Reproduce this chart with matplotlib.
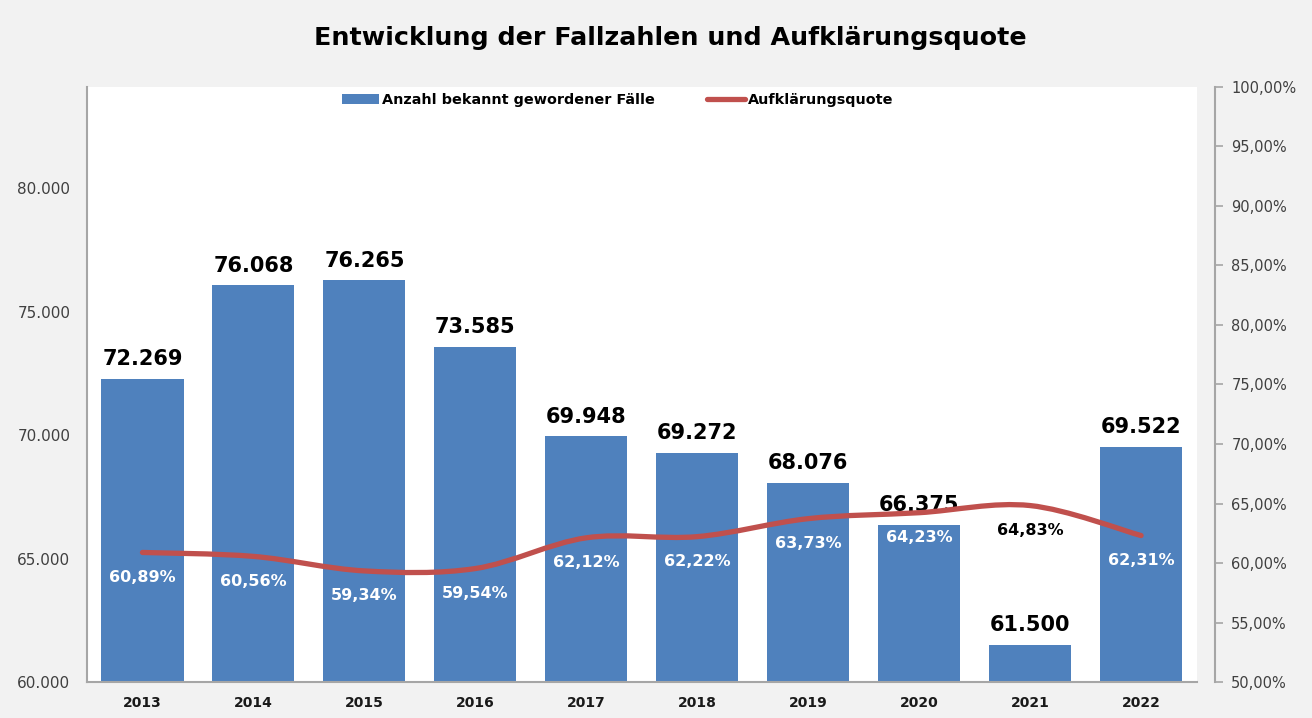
import matplotlib.pyplot as plt
from matplotlib.lines import Line2D
from matplotlib.patches import Patch, PathPatch
from matplotlib.path import Path
from matplotlib.ticker import FuncFormatter

years = ["2013", "2014", "2015", "2016", "2017", "2018", "2019", "2020", "2021", "2022"]
cases = [72269, 76068, 76265, 73585, 69948, 69272, 68076, 66375, 61500, 69522]
quote = [60.89, 60.56, 59.34, 59.54, 62.12, 62.22, 63.73, 64.23, 64.83, 62.31]

BAR_C = "#4f81bd"
LINE_C = "#c0504d"
BG = "#f2f2f2"
AXIS_C = "#a6a6a6"
TXT = "#404040"


def de_int(v, _=None):
    return f"{int(round(v)):,}".replace(",", ".")


def de_pct(v, _=None):
    return f"{v:.2f}%".replace(".", ",")


def smooth_path(xs, ys):
    # Bezier-Glättung wie in Excel (Catmull-Rom)
    verts = [(xs[0], ys[0])]
    codes = [Path.MOVETO]
    n = len(xs)
    for i in range(n - 1):
        x0, y0 = (xs[i - 1], ys[i - 1]) if i > 0 else (xs[i], ys[i])
        x3, y3 = (xs[i + 2], ys[i + 2]) if i + 2 < n else (xs[i + 1], ys[i + 1])
        c1 = (xs[i] + (xs[i + 1] - x0) / 6, ys[i] + (ys[i + 1] - y0) / 6)
        c2 = (xs[i + 1] - (x3 - xs[i]) / 6, ys[i + 1] - (y3 - ys[i]) / 6)
        verts += [c1, c2, (xs[i + 1], ys[i + 1])]
        codes += [Path.CURVE4] * 3
    return Path(verts, codes)


fig = plt.figure(figsize=(13.12, 7.18), dpi=100)
fig.patch.set_facecolor(BG)
ax = fig.add_axes([0.0663, 0.050, 0.8457, 0.829])
ax.set_facecolor("white")

x = list(range(len(years)))
ax.bar(x, cases, width=0.74, color=BAR_C, zorder=2)
ax.set_xlim(-0.5, len(years) - 0.5)
ax.set_ylim(60000, 84100)
ax.set_yticks([60000, 65000, 70000, 75000, 80000])
ax.yaxis.set_major_formatter(FuncFormatter(de_int))
ax.set_xticks(x)
ax.set_xticklabels(years, fontweight="bold", fontsize=10, color="#1a1a1a")
ax.tick_params(axis="y", length=0, pad=12, labelsize=11, labelcolor=TXT)
ax.tick_params(axis="x", length=0, pad=10)
for s in ["top", "right"]:
    ax.spines[s].set_visible(False)
for s in ["left", "bottom"]:
    ax.spines[s].set_color(AXIS_C)
    ax.spines[s].set_linewidth(1.5)

for xi, v in zip(x, cases):
    ax.annotate(de_int(v), (xi, v), xytext=(0, 7), textcoords="offset points",
                ha="center", va="bottom", fontsize=15, fontweight="bold",
                color="black", zorder=5)

ax2 = ax.twinx()
ax2.set_ylim(50, 100)
ax2.set_yticks(range(50, 101, 5))
ax2.yaxis.set_major_formatter(FuncFormatter(de_pct))
ax2.tick_params(axis="y", direction="out", length=6, width=1.2, color=AXIS_C,
                pad=6, labelsize=10.5, labelcolor=TXT)
for s in ["top", "left", "bottom"]:
    ax2.spines[s].set_visible(False)
ax2.spines["right"].set_position(("outward", 13))
ax2.spines["right"].set_color(AXIS_C)
ax2.spines["right"].set_linewidth(1.5)

ax2.add_patch(PathPatch(smooth_path(x, quote), facecolor="none", edgecolor=LINE_C,
                        lw=3.8, capstyle="round", zorder=3))

for i, (xi, q) in enumerate(zip(x, quote)):
    col = "black" if cases[i] < 64000 else "white"
    ax2.annotate(de_pct(q), (xi, q), xytext=(0, -18), textcoords="offset points",
                 ha="center", va="center", fontsize=11.5, fontweight="bold",
                 color=col, zorder=5)

handles = [Patch(facecolor=BAR_C, label="Anzahl bekannt gewordener Fälle"),
           Line2D([0], [0], color=LINE_C, lw=3.8, solid_capstyle="round",
                  label="Aufklärungsquote")]
ax.legend(handles=handles, loc="upper center", bbox_to_anchor=(0.478, 1.012), ncol=2,
          frameon=False, prop={"weight": "bold", "size": 10.4}, handlelength=2.6,
          handletextpad=0.2, columnspacing=3.6)

fig.text(0.511, 0.947, "Entwicklung der Fallzahlen und Aufklärungsquote",
         ha="center", va="center", fontsize=18.3, fontweight="bold", color="black")

fig.savefig("out.png", dpi=100, facecolor=BG)
